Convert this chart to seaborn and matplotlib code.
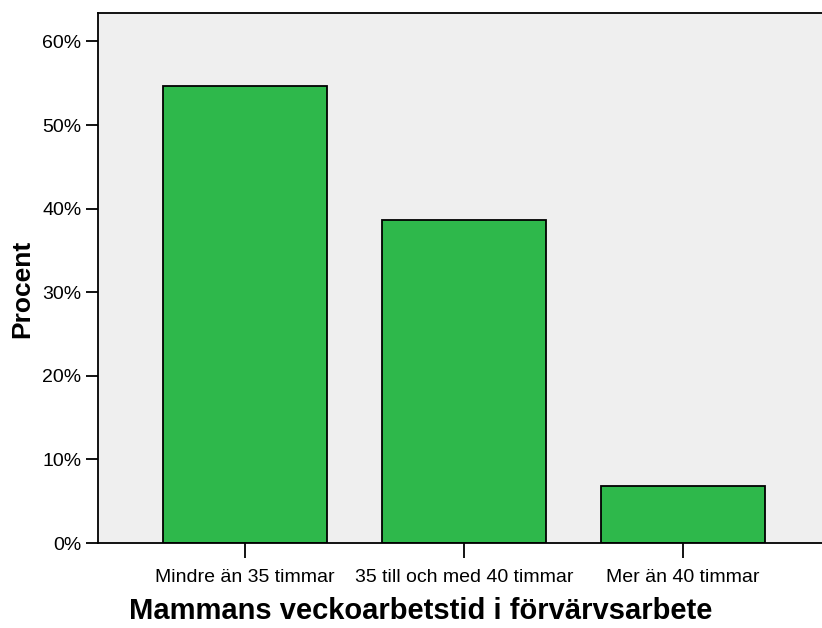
import pandas as pd
import seaborn as sns
import matplotlib.pyplot as plt
from matplotlib.ticker import PercentFormatter

categories = ["Mindre än 35 timmar", "35 till och med 40 timmar", "Mer än 40 timmar"]
percent = [54.7, 38.6, 6.8]

df = pd.DataFrame({"kategori": categories, "procent": percent})

sns.set_style("white")
plt.rcParams["font.family"] = ["Liberation Sans", "DejaVu Sans"]
plt.rcParams["text.color"] = "black"
plt.rcParams["axes.labelcolor"] = "black"
plt.rcParams["xtick.color"] = "black"
plt.rcParams["ytick.color"] = "black"

fig = plt.figure(figsize=(8.22, 6.28), dpi=100)
ax = fig.add_axes([98 / 822, 85 / 628, 1 - 98 / 822, 530 / 628])
ax.set_facecolor("#efefef")

sns.barplot(data=df, x="kategori", y="procent", color="#2eb84b",
            saturation=1, width=0.75, edgecolor="black", linewidth=1.3, ax=ax)

ax.set_xlim(-0.67, 2.635)
ax.set_ylim(0, 63.4)
ax.set_yticks([0, 10, 20, 30, 40, 50, 60])
ax.yaxis.set_major_formatter(PercentFormatter(decimals=0))

for s in ["left", "top", "bottom"]:
    ax.spines[s].set_color("black")
    ax.spines[s].set_linewidth(1.3)
ax.spines["right"].set_visible(False)

ax.tick_params(axis="y", length=9, width=1.3, labelsize=14, pad=3, left=True)
ax.tick_params(axis="x", length=11, width=1.3, labelsize=14, pad=8, bottom=True)

ax.set_xlabel("Mammans veckoarbetstid i förvärvsarbete", fontsize=21, fontweight="bold")
ax.xaxis.set_label_coords((421 - 98) / 724, -0.102)
ax.set_ylabel("Procent", fontsize=19, fontweight="bold")
ax.yaxis.set_label_coords(-0.088, 0.479)

fig.savefig("out.png", dpi=100)
